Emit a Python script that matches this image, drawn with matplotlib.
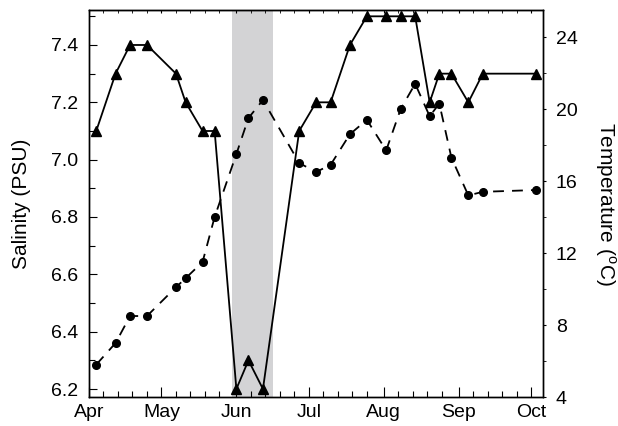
import pandas as pd
import matplotlib
matplotlib.use("Agg")
import matplotlib.pyplot as plt
import matplotlib.dates as mdates
from matplotlib.ticker import MultipleLocator

plt.rcParams["font.family"] = ["Liberation Sans", "DejaVu Sans"]

# sampling dates (same for both series)
dates = [
    "2010-04-04", "2010-04-12", "2010-04-18", "2010-04-25", "2010-05-07",
    "2010-05-11", "2010-05-18", "2010-05-23", "2010-06-01", "2010-06-06",
    "2010-06-12", "2010-06-27", "2010-07-04", "2010-07-10", "2010-07-18",
    "2010-07-25", "2010-08-02", "2010-08-08", "2010-08-14", "2010-08-20",
    "2010-08-24", "2010-08-29", "2010-09-05", "2010-09-11", "2010-10-03",
]
salinity = [7.1, 7.3, 7.4, 7.4, 7.3, 7.2, 7.1, 7.1, 6.2, 6.3, 6.2, 7.1, 7.2,
            7.2, 7.4, 7.5, 7.5, 7.5, 7.5, 7.2, 7.3, 7.3, 7.2, 7.3, 7.3]
temperature = [5.8, 7.0, 8.5, 8.5, 10.1, 10.6, 11.5, 14.0, 17.5, 19.5, 20.5,
               17.0, 16.5, 16.9, 18.6, 19.4, 17.7, 20.0, 21.4, 19.6, 20.3,
               17.3, 15.2, 15.4, 15.5]
shade_period = ["2010-05-30", "2010-06-16"]

x = pd.to_datetime(dates)

fig = plt.figure(figsize=(6.18, 4.26), dpi=100)
ax = fig.add_axes([0.144, 0.068, 0.735, 0.9085])

ax.axvspan(pd.Timestamp(shade_period[0]), pd.Timestamp(shade_period[1]),
           color="#d3d3d5", lw=0, zorder=0)
ax.plot(x, salinity, color="black", lw=1.3, marker="^", ms=6.5, zorder=3)

ax.set_xlim(pd.Timestamp("2010-04-01"), pd.Timestamp("2010-10-06"))
ax.set_ylim(6.172, 7.522)
ax.yaxis.set_major_locator(MultipleLocator(0.2))
ax.yaxis.set_minor_locator(MultipleLocator(0.1))
ax.yaxis.set_major_formatter(plt.FormatStrFormatter("%.1f"))
ax.xaxis.set_major_locator(mdates.MonthLocator())
ax.xaxis.set_minor_locator(mdates.DayLocator(bymonthday=[7, 13, 19, 25]))
ax.xaxis.set_major_formatter(mdates.DateFormatter("%b"))
ax.tick_params(axis="both", which="both", direction="in", labelsize=14, width=0.8)
ax.tick_params(axis="y", which="major", length=6, pad=8)
ax.tick_params(axis="y", which="minor", length=4)
ax.tick_params(axis="x", which="major", length=7, pad=5)
ax.tick_params(axis="x", which="minor", length=4)
ax.set_ylabel("Salinity (PSU)", fontsize=15, labelpad=14)

# small ticks on the top spine
top = ax.secondary_xaxis("top")
top.xaxis.set_major_locator(mdates.MonthLocator())
top.xaxis.set_minor_locator(mdates.DayLocator(bymonthday=[7, 13, 19, 25]))
top.tick_params(axis="x", which="both", direction="in", length=2, labeltop=False)

ax2 = ax.twinx()
ax2.plot(x, temperature, color="black", lw=1.3, ls=(0, (6, 4.5)), marker="o", ms=5.5, zorder=3)
ax2.set_ylim(4, 25.5)
ax2.yaxis.set_major_locator(MultipleLocator(4))
ax2.yaxis.set_minor_locator(MultipleLocator(2))
ax2.tick_params(axis="y", which="both", direction="out", length=2, labelsize=14, pad=7)
ax2.set_ylabel("Temperature ($^\\mathregular{o}$C)", fontsize=15, rotation=270, labelpad=29)

for a in (ax, ax2):
    for s in a.spines.values():
        s.set_linewidth(1.0)

fig.savefig("out.png", dpi=100)
